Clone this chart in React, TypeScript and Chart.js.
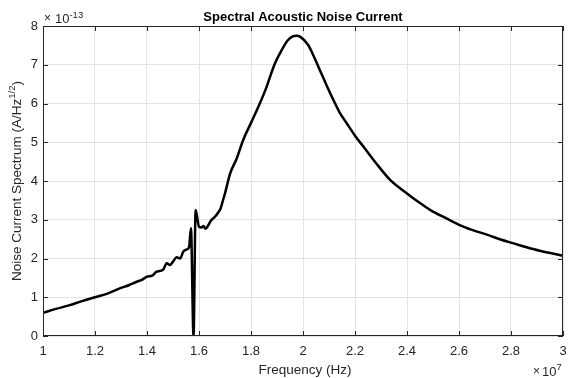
import React, { useEffect, useRef } from "react";
import { Chart, registerables } from "chart.js";

Chart.register(...registerables);

// Frequency in units of 1e7 Hz
const freqE7 = [
  1.0, 1.05, 1.1, 1.15, 1.2, 1.25, 1.3, 1.33, 1.36, 1.38, 1.4, 1.42, 1.437, 1.45, 1.463, 1.476, 1.488, 1.5,
  1.514, 1.527, 1.54, 1.555, 1.562, 1.569, 1.579, 1.587, 1.6, 1.61, 1.617, 1.625, 1.635, 1.645, 1.66, 1.67,
  1.683, 1.69, 1.7, 1.71, 1.72, 1.745, 1.77, 1.8, 1.83, 1.86, 1.89, 1.92, 1.94, 1.96, 1.976, 1.99, 2.02,
  2.04, 2.065, 2.09, 2.117, 2.14, 2.168, 2.2, 2.238, 2.28, 2.335, 2.4, 2.45, 2.49, 2.55, 2.6, 2.65, 2.71,
  2.76, 2.81, 2.86, 2.91, 2.96, 3.0,
];
// Noise current spectrum in units of 1e-13 A/Hz^(1/2)
const noiseE13 = [
  0.6, 0.7, 0.79, 0.9, 1.0, 1.1, 1.24, 1.31, 1.4, 1.45, 1.53, 1.56, 1.66, 1.68, 1.72, 1.88, 1.83, 1.92,
  2.03, 2.0, 2.18, 2.24, 2.3, 2.78, 0.0, 3.25, 2.82, 2.8, 2.84, 2.77, 2.85, 2.97, 3.07, 3.15,
  3.29, 3.45, 3.68, 3.95, 4.2, 4.58, 5.06, 5.5, 5.94, 6.43, 7.0, 7.4, 7.62, 7.73, 7.75, 7.72, 7.51,
  7.24, 6.86, 6.48, 6.09, 5.78, 5.49, 5.17, 4.84, 4.47, 4.03, 3.68, 3.43, 3.25, 3.04, 2.87, 2.74, 2.61,
  2.49, 2.39, 2.29, 2.2, 2.13, 2.07,
];
const xTickValues = [1, 1.2, 1.4, 1.6, 1.8, 2, 2.2, 2.4, 2.6, 2.8, 3];
const yTickValues = [0, 1, 2, 3, 4, 5, 6, 7, 8];

const titleText = "Spectral Acoustic Noise Current";
const xLabelText = "Frequency (Hz)";
const yLabelBase = "Noise Current Spectrum (A/Hz";
const yLabelSup = "1/2";
const yLabelEnd = ")";
const yExponent = "-13";
const xExponent = "7";

const FONT = '"Liberation Sans", Arial, Helvetica, sans-serif';
const AXIS_COLOR = "#262626";

const decorPlugin = {
  id: "decor",
  afterDraw(chart: any) {
    const ctx = chart.ctx as CanvasRenderingContext2D;
    const { left, right, top, bottom } = chart.chartArea;
    const xs = chart.scales.x;
    const ys = chart.scales.y;
    ctx.save();
    ctx.strokeStyle = AXIS_COLOR;
    ctx.lineWidth = 1;
    ctx.strokeRect(Math.round(left) + 0.5, Math.round(top) + 0.5, Math.round(right - left) - 1, Math.round(bottom - top) - 1);
    const tl = 5;
    ctx.beginPath();
    for (const v of xTickValues) {
      const px = Math.round(xs.getPixelForValue(v)) + 0.5;
      ctx.moveTo(px, bottom);
      ctx.lineTo(px, bottom - tl);
      ctx.moveTo(px, top);
      ctx.lineTo(px, top + tl);
    }
    for (const v of yTickValues) {
      const py = Math.round(ys.getPixelForValue(v)) + 0.5;
      ctx.moveTo(left, py);
      ctx.lineTo(left + tl, py);
      ctx.moveTo(right, py);
      ctx.lineTo(right - tl, py);
    }
    ctx.stroke();

    ctx.fillStyle = "#000";
    ctx.font = `bold 13px ${FONT}`;
    ctx.textAlign = "center";
    ctx.textBaseline = "alphabetic";
    ctx.fillText(titleText, (left + right) / 2, 21);

    ctx.fillStyle = AXIS_COLOR;
    ctx.font = `13.5px ${FONT}`;
    ctx.fillText(xLabelText, (left + right) / 2 + 2, 374);

    ctx.save();
    ctx.translate(21, (top + bottom) / 2);
    ctx.rotate(-Math.PI / 2);
    ctx.textAlign = "left";
    const baseFont = `13.5px ${FONT}`;
    const supFont = `9.5px ${FONT}`;
    ctx.font = baseFont;
    const w1 = ctx.measureText(yLabelBase).width;
    const w3 = ctx.measureText(yLabelEnd).width;
    ctx.font = supFont;
    const w2 = ctx.measureText(yLabelSup).width;
    const total = w1 + w2 + w3;
    let x0 = -total / 2;
    ctx.font = baseFont;
    ctx.fillText(yLabelBase, x0, 0);
    x0 += w1;
    ctx.font = supFont;
    ctx.fillText(yLabelSup, x0, -6);
    x0 += w2;
    ctx.font = baseFont;
    ctx.fillText(yLabelEnd, x0, 0);
    ctx.restore();

    ctx.textAlign = "left";
    ctx.font = `12px ${FONT}`;
    ctx.fillText("\u00d7", 44, 22);
    ctx.font = `13px ${FONT}`;
    ctx.fillText("10", 55, 23);
    const w10 = ctx.measureText("10").width;
    ctx.font = `9.5px ${FONT}`;
    ctx.fillText(yExponent, 55 + w10, 18);

    ctx.font = `12px ${FONT}`;
    ctx.fillText("\u00d7", 533, 375);
    ctx.font = `13px ${FONT}`;
    ctx.fillText("10", 542, 376);
    const w10b = ctx.measureText("10").width;
    ctx.font = `9.5px ${FONT}`;
    ctx.fillText(xExponent, 542 + w10b, 370);
    ctx.restore();
  },
};

export default function App() {
  const canvasRef = useRef<HTMLCanvasElement | null>(null);

  useEffect(() => {
    document.body.style.margin = "0";
    const canvas = canvasRef.current;
    if (!canvas) return;
    const points = freqE7.map((f, i) => ({ x: f, y: noiseE13[i] }));
    const chart = new Chart(canvas, {
      type: "line",
      data: {
        datasets: [
          {
            data: points,
            borderColor: "#000000",
            borderWidth: 2.5,
            pointRadius: 0,
            cubicInterpolationMode: "monotone",
            fill: false,
          },
        ],
      },
      options: {
        animation: false,
        responsive: false,
        maintainAspectRatio: false,
        layout: { padding: { top: 26, right: 5, left: 0, bottom: 0 } },
        plugins: {
          legend: { display: false },
          title: { display: false },
          tooltip: { enabled: false },
        },
        scales: {
          x: {
            type: "linear",
            min: 1,
            max: 3,
            afterBuildTicks: (scale: any) => {
              scale.ticks = xTickValues.map((v) => ({ value: v }));
            },
            afterFit: (scale: any) => {
              scale.height = 42;
              scale.paddingLeft = 0;
              scale.paddingRight = 0;
            },
            ticks: {
              color: AXIS_COLOR,
              font: { family: FONT, size: 13 },
              padding: 8,
              maxRotation: 0,
              autoSkip: false,
              callback: (v: any) => String(parseFloat(Number(v).toFixed(1))),
            },
            grid: { color: "#e3e3e3", drawTicks: false, lineWidth: 1 },
            border: { display: false },
          },
          y: {
            type: "linear",
            min: 0,
            max: 8,
            afterBuildTicks: (scale: any) => {
              scale.ticks = yTickValues.map((v) => ({ value: v }));
            },
            afterFit: (scale: any) => {
              scale.width = 43;
              scale.paddingTop = 0;
              scale.paddingBottom = 0;
            },
            ticks: {
              color: AXIS_COLOR,
              font: { family: FONT, size: 13 },
              padding: 5,
              autoSkip: false,
              callback: (v: any) => String(Math.round(Number(v))),
            },
            grid: { color: "#e3e3e3", drawTicks: false, lineWidth: 1 },
            border: { display: false },
          },
        },
      },
      plugins: [decorPlugin],
    });
    return () => chart.destroy();
  }, []);

  return (
    <div style={{ width: 568, height: 378 }}>
      <canvas ref={canvasRef} width={568} height={378} style={{ display: "block" }} />
    </div>
  );
}
